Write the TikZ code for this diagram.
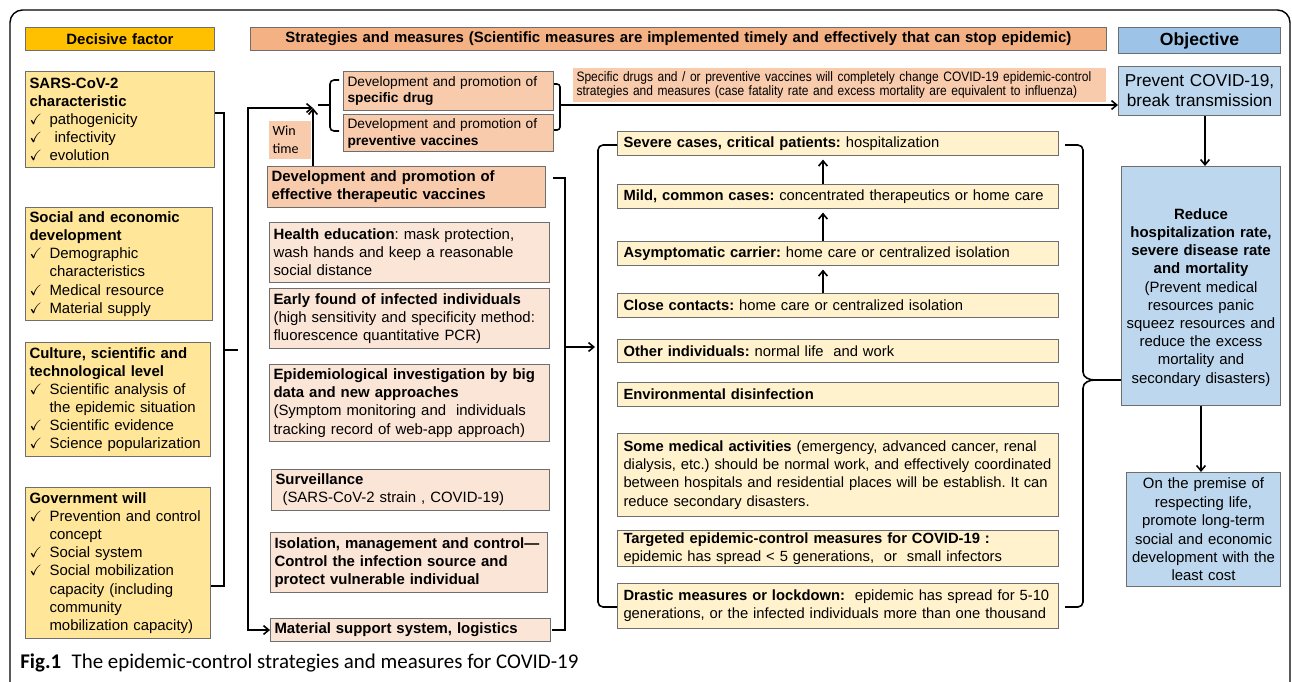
\documentclass[tikz,border=0pt]{standalone}
\usepackage{amssymb}
\usepackage{fontspec}
\setmainfont{Liberation Sans}
\newfontfamily\narrowfont[FakeStretch=0.88]{Liberation Sans}
\newfontfamily\winfont{Carlito}
\newfontfamily\capfont{Carlito}
\usetikzlibrary{arrows.meta}
\definecolor{gold}{HTML}{FFC000}
\definecolor{factorfill}{HTML}{FFE699}
\definecolor{strathead}{HTML}{F4B183}
\definecolor{devfill}{HTML}{F8CBAD}
\definecolor{stratfill}{HTML}{FBE5D6}
\definecolor{measfill}{HTML}{FFF2CC}
\definecolor{objhead}{HTML}{9DC3E6}
\definecolor{objfill}{HTML}{BDD7EE}
\definecolor{boxline}{HTML}{6E6E6E}
\newcommand{\ck}{\par\hangindent=11.4pt\hangafter=1\noindent\makebox[11.4pt][l]{$\checkmark$}}
\hyphenpenalty=10000
\exhyphenpenalty=10000
\tikzset{
  box/.style={draw=boxline, line width=0.6pt, anchor=north west, inner xsep=0.08cm, inner ysep=0pt, align=left, font=\fontsize{8.5}{10.3}\selectfont},
  ht/.style={minimum height=#1*0.02cm},
  head/.style={box, align=center, font=\fontsize{8.5}{10.3}\selectfont\bfseries},
  factor/.style={box, fill=factorfill},
  dev/.style={box, fill=devfill},
  strat/.style={box, fill=stratfill},
  meas/.style={box, fill=measfill, inner xsep=0.12cm, text width=8.58cm, font=\fontsize{8.4}{10.3}\selectfont},
  obj/.style={box, fill=objfill, align=center},
  conn/.style={line width=0.9pt},
  >={Straight Barb[length=3pt,width=5pt]}
}

\begin{document}
\frenchspacing
\begin{tikzpicture}[x=0.02cm,y=-0.02cm]
\useasboundingbox (0,0) rectangle (1292,681);
\draw[line width=0.8pt, rounded corners=0.25cm] (10,10) rectangle (1290,700);

% headers
\node[head, fill=gold, text width=3.62cm, ht=23] (hfac) at (25,27) {Decisive factor};
\node[head, fill=strathead, text width=16.96cm, ht=23] (hstr) at (250,27) {Strategies and measures (Scientific measures are implemented timely and effectively that can stop epidemic)};
\node[head, fill=objhead, text width=3.08cm, ht=26, font=\fontsize{10}{12}\selectfont\bfseries] (hobj) at (1118,27) {Objective};

% decisive factors
\node[factor, text width=3.62cm, ht=96] (f1) at (25,71) {{\bfseries SARS-CoV-2\\characteristic}\ck pathogenicity\ck\ infectivity\ck evolution\par};
\node[factor, text width=3.58cm, ht=113] (f2) at (25,207) {{\bfseries Social and economic\\development}\ck Demographic\newline characteristics\ck Medical resource\ck Material supply\par};
\node[factor, text width=3.54cm, ht=114] (f3) at (25,342) {{\bfseries Culture, scientific and\\technological level}\ck Scientific analysis of\newline the epidemic situation\ck Scientific evidence\ck Science popularization\par};
\node[factor, text width=3.54cm, ht=151] (f4) at (25,487) {{\bfseries Government will}\ck Prevention and control\newline concept\ck Social system\ck Social mobilization\newline capacity (including\newline community\newline mobilization capacity)\par};

% strategies and measures
\node[dev, text width=4.04cm, ht=39, font=\fontsize{7.8}{9.6}\selectfont] (drug) at (343,71) {Development and promotion of\\\textbf{specific drug}};
\node[dev, text width=4.04cm, ht=37, font=\fontsize{7.8}{9.6}\selectfont] (vacc) at (343,114) {Development and promotion of\\\textbf{preventive vaccines}};
\node[dev, draw=none, text width=0.68cm, ht=38, font=\winfont\fontsize{8}{10.2}\selectfont] (win) at (268,120) {Win\\time};
\node[dev, text width=5.40cm, ht=41, font=\fontsize{8.5}{10.3}\selectfont\bfseries] (ther) at (267,166) {Development and promotion of\\effective therapeutic vaccines};
\node[dev, draw=none, text width=10.52cm, ht=34, font=\narrowfont\fontsize{7.76}{8}\selectfont] (desc) at (572,67) {Specific drugs and / or preventive vaccines will completely change COVID-19 epidemic-control\\strategies and measures (case fatality rate and excess mortality are equivalent to influenza)};
\node[strat, text width=5.44cm, ht=60] (health) at (269,222) {\textbf{Health education}: mask protection,\\wash hands and keep a reasonable\\social distance};
\node[strat, text width=5.44cm, ht=60] (early) at (269,288) {\textbf{Early found of infected individuals}\\(high sensitivity and specificity method:\\fluorescence quantitative PCR)};
\node[strat, text width=5.44cm, ht=77] (epi) at (269,364) {\textbf{Epidemiological investigation by big}\\\textbf{data and new approaches}\\(Symptom monitoring and\ \ individuals\\tracking record of web-app approach)};
\node[strat, text width=5.40cm, ht=41] (surv) at (271,469) {\textbf{Surveillance}\\\hspace*{4pt}(SARS-CoV-2 strain , COVID-19)};
\node[strat, text width=5.38cm, ht=60, font=\fontsize{8.5}{10.3}\selectfont\bfseries] (isol) at (270,532) {Isolation, management and control---\\Control the infection source and\\protect vulnerable individual};
\node[strat, text width=5.44cm, ht=23, font=\fontsize{8.5}{10.3}\selectfont\bfseries] (mat) at (270,618) {Material support system, logistics};

% groups of people
\node[meas, ht=24] (m1) at (617,131) {\textbf{Severe cases, critical patients:} hospitalization};
\node[meas, ht=24] (m2) at (617,184) {\textbf{Mild, common cases:} concentrated therapeutics or home care};
\node[meas, ht=24] (m3) at (617,241) {\textbf{Asymptomatic carrier:} home care or centralized isolation};
\node[meas, ht=24] (m4) at (617,293) {\textbf{Close contacts:} home care or centralized isolation};
\node[meas, ht=23] (m5) at (617,339) {\textbf{Other individuals:} normal life\ \ and work};
\node[meas, ht=24] (m6) at (617,382) {\textbf{Environmental disinfection}};
\node[meas, ht=83] (m7) at (617,433) {\textbf{Some medical activities} (emergency, advanced cancer, renal\\dialysis, etc.) should be normal work, and effectively coordinated\\between hospitals and residential places will be establish. It can\\reduce secondary disasters.};
\node[meas, ht=36] (m8) at (617,530) {\textbf{Targeted epidemic-control measures for COVID-19 :}\\epidemic has spread < 5 generations,\ \ or\ \ small infectors};
\node[meas, ht=45] (m9) at (617,583) {\textbf{Drastic measures or lockdown:}\ \ epidemic has spread for 5-10\\generations, or the infected individuals more than one thousand};

% objective
\node[obj, text width=3.08cm, ht=49, font=\fontsize{9.8}{11.4}\selectfont] (o1) at (1118,66) {Prevent COVID-19,\\break transmission};
\node[obj, text width=3.02cm, ht=239, font=\fontsize{8.5}{10.35}\selectfont] (o2) at (1121,166) {\rule{0pt}{19pt}\textbf{Reduce}\\\textbf{hospitalization rate,}\\\textbf{severe disease rate}\\\textbf{and mortality}\\(Prevent medical\\resources panic\\squeez resources and\\reduce the excess\\mortality and\\secondary disasters)};
\node[obj, text width=2.92cm, ht=114, font=\fontsize{8.5}{10.5}\selectfont] (o3) at (1126,472) {On the premise of\\respecting life,\\promote long-term\\social and economic\\development with the\\least cost};

\node[anchor=base west, inner sep=0pt, font=\capfont\fontsize{11.9}{13}\selectfont] (cap) at (20,668) {\textbf{Fig.1}\enspace The epidemic-control strategies and measures for COVID-19};

% factor bracket
\draw[conn] (f1.east |- 0,113) -- (224,113) -- (224,586) -- (f4.east |- 0,586);
\coordinate (lb) at (238,350);
\draw[conn] (224,350) -- (lb);

% win time arrows
\coordinate (ja) at (313,108);
\draw[conn,<->] (ja) -- (248,108) -- (248,630) -- (mat.west);
\draw[conn,->] (ther.north -| ja) -- (ja);
\draw[conn, rounded corners=0.08cm] (339,80) -- (330,80) -- (330,131) -- (339,131);
\draw[conn] (318,105) -- (330,105);
\draw[conn, rounded corners=0.06cm] (554,84) -- (560,84) -- (560,130) -- (554,130);
\coordinate (ry) at (560,105);
\draw[conn,->] (ry) -- (o1.west |- ry);

% strategies bracket
\draw[conn] (553,178) -- (565,178) -- (565,630) -- (552,630);
\coordinate (mb) at (565,347);
\coordinate (ml) at (595,347);
\draw[conn,->] (mb) -- (ml);

% groups bracket
\draw[conn, rounded corners=0.1cm] (m1.west |- 0,145) -- (598,145) -- (598,607) -- (m9.west |- 0,607);
\draw[conn, rounded corners=0.1cm] (1065,145) -- (1083,145) -- (1083,372);
\draw[conn, rounded corners=0.1cm] (1065,607) -- (1083,607) -- (1083,388);
\coordinate (bt) at (1095,380);
\draw[conn] (1083,372) to[out=-90,in=180] (bt);
\draw[conn] (1083,388) to[out=90,in=180] (bt);
\draw[conn] (bt) -- (o2.west |- bt);

\coordinate (ax) at (823,0);
\foreach \lo/\hi in {m2/m1,m3/m2,m4/m3}
  \draw[conn,->,shorten >=2pt] (\lo.north -| ax) -- (\hi.south -| ax);

% objective arrows
\coordinate (ox) at (1205,0);
\draw[conn,->] (o1.south -| ox) -- (o2.north -| ox);
\draw[conn,->] (o2.south) -- (o2.south |- o3.north);
\end{tikzpicture}
\end{document}
